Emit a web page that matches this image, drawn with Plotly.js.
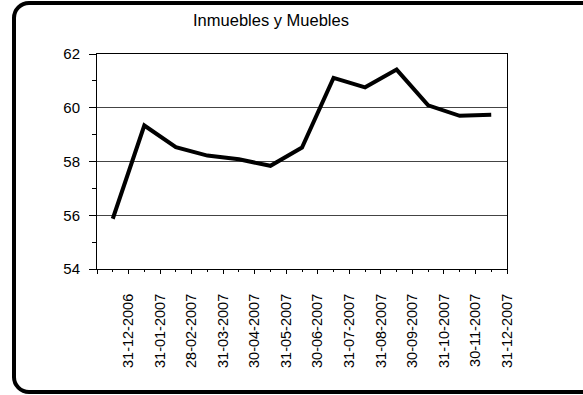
<!DOCTYPE html>
<html>
<head>
<meta charset="utf-8">
<script src="https://cdn.plot.ly/plotly-3.0.1.min.js"></script>
<style>
html, body { margin: 0; padding: 0; overflow: hidden; background: #fff; }
#wrap { position: relative; width: 583px; height: 395px; overflow: hidden; }
#chart { position: absolute; left: 0; top: 0; width: 583px; height: 395px; }
#frame { position: absolute; left: 12px; top: 1px; width: 600px; height: 393px; box-sizing: border-box;
  border: 4px solid #000; border-radius: 17px; pointer-events: none; }
</style>
</head>
<body>
<div id="wrap">
<div id="chart"></div>
<div id="frame"></div>
</div>
<script>
// Data
var categories = ["31-12-2006","31-01-2007","28-02-2007","31-03-2007","30-04-2007","31-05-2007",
                  "30-06-2007","31-07-2007","31-08-2007","30-09-2007","31-10-2007","30-11-2007","31-12-2007"];
var values = [55.87, 59.34, 58.53, 58.22, 58.08, 57.84, 58.52, 61.11, 60.76, 61.42, 60.09, 59.70, 59.74];
var chartTitle = "Inmuebles y Muebles";

var idx = categories.map(function(_, i){ return i; });
var tickPos = [-0.5].concat(idx.map(function(i){ return i + 0.5; }));
var tickTxt = [""].concat(categories);

var font = "Liberation Sans, Arial, sans-serif";

var trace = {
  x: idx, y: values, type: "scatter", mode: "lines",
  line: { color: "#000", width: 4 },
  hoverinfo: "skip"
};

var layout = {
  width: 583, height: 395,
  margin: { l: 97, r: 76, t: 54, b: 126 },
  paper_bgcolor: "rgba(0,0,0,0)", plot_bgcolor: "#fff",
  showlegend: false,
  title: { text: chartTitle, font: { family: font, size: 16.5, color: "#000" },
           xref: "container", yref: "container", x: 271/583, xanchor: "center", y: 1 - 20/395, yanchor: "middle" },
  xaxis: {
    range: [-0.5, 12.5], tickmode: "array", tickvals: tickPos, ticktext: tickTxt,
    tickangle: -90, ticks: "outside", ticklen: 4, tickcolor: "#000", tickwidth: 1,
    ticklabelstandoff: 14,
    showline: true, linecolor: "#000", linewidth: 1, mirror: true,
    showgrid: false, zeroline: false,
    tickfont: { family: font, size: 14.5, color: "#000" },
    minor: { tickmode: "linear", tick0: 0, dtick: 1, ticks: "outside", ticklen: 2, tickcolor: "#000", showgrid: false }
  },
  yaxis: {
    range: [54, 62], tickmode: "linear", tick0: 54, dtick: 2,
    ticks: "outside", ticklen: 7, tickcolor: "#000", tickwidth: 1,
    ticklabelstandoff: 6,
    showline: true, linecolor: "#000", linewidth: 1, mirror: true,
    showgrid: true, gridcolor: "#444", gridwidth: 1, zeroline: false,
    tickfont: { family: font, size: 15, color: "#000" },
    minor: { tickmode: "linear", tick0: 55, dtick: 2, ticks: "outside", ticklen: 4, tickcolor: "#000", showgrid: false }
  }
};

Plotly.newPlot("chart", [trace], layout, { staticPlot: true, displayModeBar: false });
</script>
</body>
</html>
